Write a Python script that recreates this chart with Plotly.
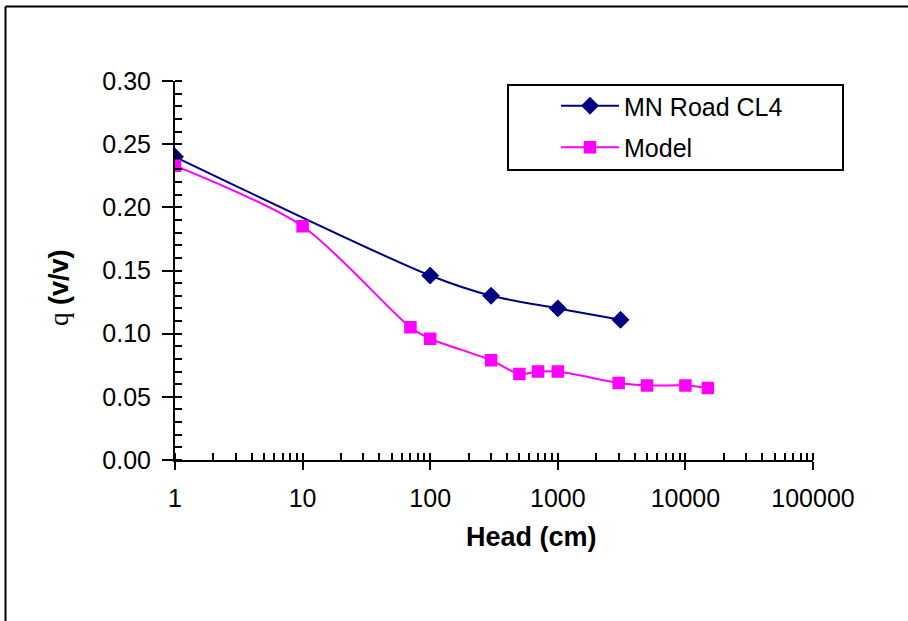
import plotly.graph_objects as go

# Measured soil-water retention (MN Road CL4) and model curve
mn_head = [1, 100, 300, 1000, 3100]
mn_theta = [0.240, 0.146, 0.130, 0.120, 0.111]

model_head = [1, 10, 70, 100, 300, 500, 700, 1000, 3000, 5000, 10000, 15000]
model_theta = [0.233, 0.185, 0.105, 0.096, 0.079, 0.068, 0.070, 0.070, 0.061, 0.059, 0.059, 0.057]

x_ticks = [1, 10, 100, 1000, 10000, 100000]
x_tick_text = ["1", "10", "100", "1000", "10000", "100000"]
y_ticks = [0.00, 0.05, 0.10, 0.15, 0.20, 0.25, 0.30]

W, H = 908, 621
L, R, T, B = 175, 95, 81, 161
PW, PH = W - L - R, H - T - B


def px(xp):
    return (xp - L) / PW


def py(yp):
    return (H - B - yp) / PH


FONT = "Liberation Sans, Arial, sans-serif"
NAVY = "#000080"
MAGENTA = "#FF00FF"

fig = go.Figure()

fig.add_trace(go.Scatter(
    x=mn_head, y=mn_theta, name="MN Road CL4", legendgroup="mn",
    mode="lines+markers",
    line=dict(color=NAVY, width=2, shape="spline", smoothing=0.8),
    marker=dict(symbol="diamond", size=13, color=NAVY, line=dict(color=NAVY, width=1)),
))
fig.add_trace(go.Scatter(
    x=model_head, y=model_theta, name="Model", legendgroup="model",
    mode="lines+markers",
    line=dict(color=MAGENTA, width=2, shape="spline", smoothing=0.8),
    marker=dict(symbol="square", size=11, color=MAGENTA, line=dict(color=MAGENTA, width=1.5)),
))

axis_common = dict(showgrid=False, zeroline=False, showline=True, linecolor="black",
                   linewidth=2, tickcolor="black", tickwidth=2,
                   tickfont=dict(family=FONT, size=25, color="black"))

fig.update_layout(
    width=W, height=H,
    margin=dict(l=L, r=R, t=T, b=B, pad=0),
    paper_bgcolor="white", plot_bgcolor="white",
    showlegend=True,
    legend=dict(x=px(556), y=py(83), xanchor="left", yanchor="top",
                bgcolor="rgba(0,0,0,0)", borderwidth=0,
                font=dict(family=FONT, size=25, color="black"),
                itemwidth=58, traceorder="grouped", tracegroupgap=6),
    xaxis=dict(type="log", range=[0, 5], tickvals=x_ticks, ticktext=x_tick_text,
               ticks="outside", ticklen=8, ticklabelstandoff=7,
               minor=dict(ticks="inside", ticklen=7, tickwidth=2, tickcolor="black",
                          dtick="D1", showgrid=False),
               **axis_common),
    yaxis=dict(range=[0, 0.30], tickvals=y_ticks, tickformat=".2f",
               ticks="outside", ticklen=11, ticklabelstandoff=6,
               minor=dict(ticks="inside", ticklen=7, tickwidth=2, tickcolor="black",
                          dtick=0.01, showgrid=False),
               **axis_common),
    # inner halves of the major ticks, so they cross the axis lines
    xaxis2=dict(type="log", range=[0, 5], overlaying="x", anchor="y", side="bottom",
                tickvals=x_ticks, ticks="inside", ticklen=7, tickwidth=2, tickcolor="black",
                showticklabels=False, showgrid=False, zeroline=False, showline=False),
    yaxis2=dict(range=[0, 0.30], overlaying="y", anchor="x", side="left",
                tickvals=y_ticks, ticks="inside", ticklen=7, tickwidth=2, tickcolor="black",
                showticklabels=False, showgrid=False, zeroline=False, showline=False),
)

# empty trace so the overlay axes are drawn
fig.add_trace(go.Scatter(x=[], y=[], xaxis="x2", yaxis="y2", showlegend=False, hoverinfo="skip"))

# legend frame
fig.add_shape(type="rect", xref="paper", yref="paper",
              x0=px(508), x1=px(843), y0=py(170), y1=py(85),
              line=dict(color="black", width=2), fillcolor="rgba(0,0,0,0)")

# outer chart-area border (left and top edges)
fig.add_shape(type="line", xref="paper", yref="paper",
              x0=px(5.5), x1=px(5.5), y0=py(640), y1=py(6.5),
              line=dict(color="black", width=2))
fig.add_shape(type="line", xref="paper", yref="paper",
              x0=px(5.5), x1=px(920), y0=py(6.5), y1=py(6.5),
              line=dict(color="black", width=2))

# axis titles
fig.add_annotation(text="<b>Head (cm)</b>", xref="paper", yref="paper",
                   x=px(531), y=py(537), xanchor="center", yanchor="middle",
                   showarrow=False, font=dict(family=FONT, size=27, color="black"))
fig.add_annotation(text="<span style='font-family:Liberation Serif, Times New Roman, serif;font-weight:normal'>q</span> <b>(v/v)</b>",
                   xref="paper", yref="paper", x=px(59), y=py(288), textangle=-90,
                   xanchor="center", yanchor="middle",
                   showarrow=False, font=dict(family=FONT, size=27, color="black"))

fig.write_html("out.html")
